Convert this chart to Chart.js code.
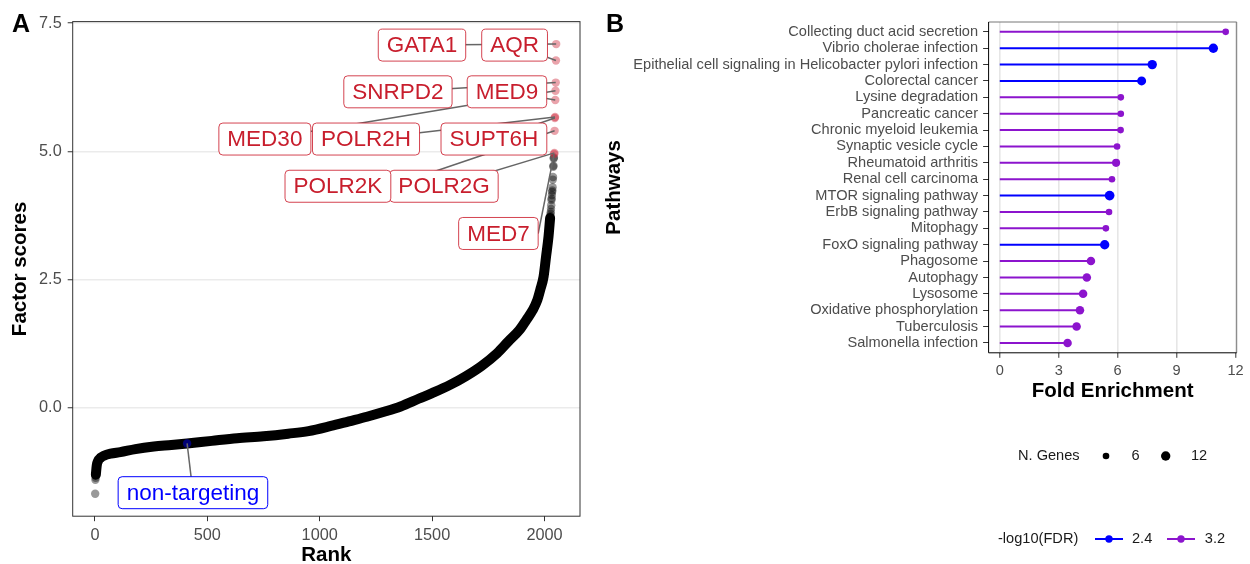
<!DOCTYPE html>
<html>
<head>
<meta charset="utf-8">
<script src="https://cdn.jsdelivr.net/npm/chart.js@4"></script>
<style>
  body { margin: 0; background: #fff; width: 1250px; height: 564px; overflow: hidden; position: relative; }
  #chartA { position: absolute; left: 0; top: 0; }
  #chartB { position: absolute; left: 600px; top: 0; }
</style>
</head>
<body>
<canvas id="chartA" width="600" height="564"></canvas>
<canvas id="chartB" width="650" height="564"></canvas>
<script>
// ---- panel A: ranked factor scores ----
// centre line of the dense band of points (rank, score)
const bandRank  = [4, 8, 14, 25, 40, 70, 113, 180, 262, 340, 410, 520, 633, 750, 860, 950, 1050, 1130, 1210, 1290, 1360, 1440, 1500, 1580, 1650, 1720, 1790, 1840, 1889, 1920, 1948, 1968, 1981, 1996, 2007, 2018, 2025];
const bandScore = [-1.30, -1.12, -1.03, -0.97, -0.93, -0.89, -0.86, -0.80, -0.75, -0.72, -0.69, -0.64, -0.59, -0.55, -0.50, -0.45, -0.35, -0.26, -0.17, -0.07, 0.03, 0.18, 0.29, 0.45, 0.62, 0.82, 1.07, 1.30, 1.52, 1.72, 1.91, 2.10, 2.30, 2.56, 2.95, 3.34, 3.70];
// separate points at both ends
const lowRank  = [1, 2, 3, 4, 5, 6];
const lowScore = [-1.67, -1.40, -1.36, -1.30, -1.24, -1.18];
const tailRank  = [2020, 2021, 2022, 2023, 2024, 2025, 2026, 2027, 2028, 2029, 2030, 2031, 2032, 2033, 2034, 2035, 2036, 2037, 2038, 2039, 2040, 2041, 2042];
const tailScore = [3.40, 3.47, 3.55, 3.62, 3.66, 3.70, 3.74, 3.78, 3.82, 3.88, 3.95, 4.05, 4.08, 4.15, 4.21, 4.24, 4.30, 4.45, 4.50, 4.70, 4.72, 4.86, 4.88];
// highlighted hits
const hitGenes = ['MED7', 'POLR2G', 'POLR2K', 'SUPT6H', 'POLR2H', 'MED9', 'MED30', 'SNRPD2', 'AQR', 'GATA1'];
const hitRank  = [2043, 2044, 2045, 2046, 2047, 2048, 2049, 2050, 2051, 2052];
const hitScore = [4.95, 4.97, 5.40, 5.65, 5.67, 6.00, 6.18, 6.34, 6.77, 7.09];
const ntLabel = 'non-targeting';
const ntRank  = [410];
const ntScore = [-0.69];
const xTicksA = [0, 500, 1000, 1500, 2000];
const yTicksA = [0, 2.5, 5, 7.5];

// label placement (data units), like ggrepel put them
const labelAt = {
  GATA1: [1455, 7.07], AQR: [1867, 7.07],
  SNRPD2: [1348, 6.16], MED9: [1833, 6.16],
  MED30: [756, 5.24], POLR2H: [1206, 5.24], SUPT6H: [1775, 5.24],
  POLR2K: [1081, 4.32], POLR2G: [1553, 4.32],
  MED7: [1795, 3.40],
  'non-targeting': [436, -1.65]
};
const segFromRight = ['POLR2K', 'MED7'];

// ---- panel B: pathway enrichment ----
const pathways = ['Collecting duct acid secretion', 'Vibrio cholerae infection', 'Epithelial cell signaling in Helicobacter pylori infection', 'Colorectal cancer', 'Lysine degradation', 'Pancreatic cancer', 'Chronic myeloid leukemia', 'Synaptic vesicle cycle', 'Rheumatoid arthritis', 'Renal cell carcinoma', 'MTOR signaling pathway', 'ErbB signaling pathway', 'Mitophagy', 'FoxO signaling pathway', 'Phagosome', 'Autophagy', 'Lysosome', 'Oxidative phosphorylation', 'Tuberculosis', 'Salmonella infection'];
const foldEnrichment = [11.50, 10.87, 7.76, 7.22, 6.16, 6.16, 6.15, 5.97, 5.92, 5.71, 5.59, 5.56, 5.40, 5.34, 4.64, 4.43, 4.24, 4.08, 3.91, 3.45];
const nGenes = [6, 12, 12, 11, 6, 6, 6, 6, 9, 6, 13, 6, 6, 12, 10, 10, 10, 10, 10, 10];
const fdr = [3.3, 2.4, 2.4, 2.4, 3.2, 3.2, 3.2, 3.2, 3.2, 3.2, 2.4, 3.2, 3.2, 2.4, 3.2, 3.2, 3.2, 3.2, 3.2, 3.2];
const xTicksB = [0, 3, 6, 9, 12];
const sizeLegend = [6, 12];
const fdrLegend = [2.4, 3.2];

const FONT = "'Liberation Sans', Arial, sans-serif";
Chart.defaults.font.family = FONT;
Chart.defaults.color = '#4D4D4D';

function fdrColor(v) {
  let t = (v - 2.4) / 0.8;
  t = Math.max(0, Math.min(1, t));
  const r = Math.round(140 * t), g = Math.round(20 * t), b = Math.round(255 - 50 * t);
  return `rgb(${r},${g},${b})`;
}
function geneRadius(n) { return 1.35 * Math.sqrt(n); }
const pts = (xs, ys) => xs.map((v, i) => ({x: v, y: ys[i]}));

function roundRect(ctx, x, y, w, h, r) {
  ctx.beginPath();
  ctx.moveTo(x + r, y);
  ctx.lineTo(x + w - r, y); ctx.quadraticCurveTo(x + w, y, x + w, y + r);
  ctx.lineTo(x + w, y + h - r); ctx.quadraticCurveTo(x + w, y + h, x + w - r, y + h);
  ctx.lineTo(x + r, y + h); ctx.quadraticCurveTo(x, y + h, x, y + h - r);
  ctx.lineTo(x, y + r); ctx.quadraticCurveTo(x, y, x + r, y);
  ctx.closePath();
}

const repelLabels = {
  id: 'repelLabels',
  afterDatasetsDraw(chart) {
    const {ctx, scales: {x, y}} = chart;
    const items = hitGenes.map((g, i) => ({text: g, rank: hitRank[i], score: hitScore[i], color: '#C81E2D', border: 'rgba(205,35,50,0.85)'}));
    items.push({text: ntLabel, rank: ntRank[0], score: ntScore[0], color: '#0000FF', border: '#0000FF'});
    ctx.save();
    ctx.font = '22.5px ' + FONT;
    const boxes = items.map(it => {
      const w = ctx.measureText(it.text).width + 17, h = 32;
      const cx = x.getPixelForValue(labelAt[it.text][0]);
      const cy = y.getPixelForValue(labelAt[it.text][1]);
      return {...it, cx, cy, w, h, px: x.getPixelForValue(it.rank), py: y.getPixelForValue(it.score)};
    });
    // segments first, boxes hide them
    ctx.strokeStyle = '#666';
    ctx.lineWidth = 1.5;
    boxes.forEach(b => {
      const sx = segFromRight.includes(b.text) ? b.cx + b.w / 2 : b.cx;
      ctx.beginPath();
      ctx.moveTo(sx, b.cy);
      ctx.lineTo(b.px, b.py);
      ctx.stroke();
    });
    boxes.forEach(b => {
      roundRect(ctx, b.cx - b.w / 2, b.cy - b.h / 2, b.w, b.h, 4);
      ctx.fillStyle = '#fff';
      ctx.fill();
      ctx.strokeStyle = b.border;
      ctx.lineWidth = 1;
      ctx.stroke();
      ctx.fillStyle = b.color;
      ctx.textAlign = 'center';
      ctx.textBaseline = 'middle';
      ctx.fillText(b.text, b.cx, b.cy + 1);
    });
    ctx.restore();
  },
  afterDraw(chart) {
    const {ctx, chartArea: a} = chart;
    ctx.save();
    ctx.strokeStyle = '#333';
    ctx.lineWidth = 1;
    ctx.strokeRect(a.left, a.top, a.right - a.left, a.bottom - a.top);
    ctx.fillStyle = '#000';
    ctx.font = 'bold 25px ' + FONT;
    ctx.textAlign = 'left';
    ctx.textBaseline = 'alphabetic';
    ctx.fillText('A', 12, 31.5);
    ctx.restore();
  }
};

new Chart(document.getElementById('chartA'), {
  type: 'scatter',
  data: {
    datasets: [
      {data: pts(bandRank, bandScore), showLine: true, borderColor: '#000', borderWidth: 10, order: 5,
       borderCapStyle: 'round', borderJoinStyle: 'round', cubicInterpolationMode: 'monotone', pointRadius: 0},
      {data: pts(lowRank, lowScore), pointRadius: 4.2, backgroundColor: 'rgba(0,0,0,0.4)', borderWidth: 0, order: 4},
      {data: pts(tailRank, tailScore), pointRadius: 4.2, backgroundColor: 'rgba(0,0,0,0.4)', borderWidth: 0, order: 3},
      {data: pts(hitRank, hitScore), pointRadius: 4.2, backgroundColor: 'rgba(205,35,55,0.42)', borderWidth: 0, order: 2},
      {data: pts(ntRank, ntScore), pointRadius: 4.2, backgroundColor: 'rgba(0,0,255,0.45)', borderWidth: 0, order: 1}
    ]
  },
  options: {
    responsive: false,
    animation: false,
    layout: {padding: {left: 0, right: 20, top: 21.6, bottom: 0}},
    plugins: {legend: {display: false}, tooltip: {enabled: false}},
    scales: {
      x: {
        type: 'linear', min: -99, max: 2158,
        afterBuildTicks: s => { s.ticks = xTicksA.map(v => ({value: v})); },
        afterFit: s => { s.height = 47.8; },
        ticks: {autoSkip: false, maxRotation: 0, padding: 5, font: {size: 16.3}, color: '#4D4D4D', callback: v => String(v)},
        grid: {drawOnChartArea: false, tickLength: 5, tickColor: '#333', tickWidth: 1},
        border: {display: false},
        title: {display: true, text: 'Rank', color: '#000', font: {size: 20.5, weight: 'bold', lineHeight: 0.8}, padding: 0}
      },
      y: {
        type: 'linear', min: -2.108, max: 7.528,
        afterBuildTicks: s => { s.ticks = yTicksA.map(v => ({value: v})); },
        afterFit: s => { s.width = 72.7; },
        ticks: {autoSkip: false, padding: 6, font: {size: 16.3}, color: '#4D4D4D', callback: v => v.toFixed(1)},
        grid: {color: '#EBEBEB', lineWidth: 1.5, tickLength: 5, tickColor: '#333', tickWidth: 1},
        border: {display: false},
        title: {display: true, text: 'Factor scores', color: '#000', font: {size: 20.5, weight: 'bold'}, padding: {top: 8, bottom: 0}}
      }
    }
  },
  plugins: [repelLabels]
});

// ---- panel B ----
const panelB = {
  id: 'panelB',
  afterDraw(chart) {
    const {ctx, chartArea: a} = chart;
    ctx.save();
    ctx.lineWidth = 1;
    ctx.strokeStyle = '#777';
    ctx.beginPath();
    ctx.moveTo(a.left, a.top); ctx.lineTo(a.right, a.top); ctx.lineTo(a.right, a.bottom);
    ctx.stroke();
    ctx.strokeStyle = '#000';
    ctx.beginPath();
    ctx.moveTo(a.left, a.top); ctx.lineTo(a.left, a.bottom); ctx.lineTo(a.right, a.bottom);
    ctx.stroke();

    ctx.fillStyle = '#000';
    ctx.font = 'bold 25px ' + FONT;
    ctx.textAlign = 'left';
    ctx.textBaseline = 'alphabetic';
    ctx.fillText('B', 6, 31.5);

    // legends
    ctx.font = '14.6px ' + FONT;
    ctx.textBaseline = 'middle';
    ctx.fillStyle = '#1A1A1A';
    ctx.fillText('N. Genes', 418, 456);
    const sizeX = [506, 565.7], sizeLblX = [531.6, 591];
    sizeLegend.forEach((n, i) => {
      ctx.fillStyle = '#000';
      ctx.beginPath();
      ctx.arc(sizeX[i], 456, geneRadius(n), 0, Math.PI * 2);
      ctx.fill();
      ctx.fillStyle = '#1A1A1A';
      ctx.fillText(String(n), sizeLblX[i], 456);
    });
    ctx.fillText('-log10(FDR)', 398, 539);
    const keyX = [509, 581], keyLblX = [532, 604.8];
    fdrLegend.forEach((v, i) => {
      const c = fdrColor(v);
      ctx.strokeStyle = c; ctx.lineWidth = 2;
      ctx.beginPath(); ctx.moveTo(keyX[i] - 14, 539); ctx.lineTo(keyX[i] + 14, 539); ctx.stroke();
      ctx.fillStyle = c;
      ctx.beginPath(); ctx.arc(keyX[i], 539, 3.7, 0, Math.PI * 2); ctx.fill();
      ctx.fillStyle = '#1A1A1A';
      ctx.fillText(v.toFixed(1), keyLblX[i], 539);
    });
    ctx.restore();
  }
};

const stems = pathways.map((p, i) => ({
  data: [{x: 0, y: i + 1}, {x: foldEnrichment[i], y: i + 1}],
  showLine: true, borderColor: fdrColor(fdr[i]), borderWidth: 2, pointRadius: 0, order: 2
}));
const dots = {
  data: pathways.map((p, i) => ({x: foldEnrichment[i], y: i + 1})),
  pointRadius: nGenes.map(geneRadius),
  backgroundColor: fdr.map(fdrColor), borderWidth: 0, order: 1
};

new Chart(document.getElementById('chartB'), {
  type: 'scatter',
  data: {datasets: [...stems, dots]},
  options: {
    responsive: false,
    animation: false,
    layout: {padding: {left: 0, right: 13.3, top: 22, bottom: 161.2}},
    plugins: {legend: {display: false}, tooltip: {enabled: false}},
    scales: {
      x: {
        type: 'linear', min: -0.57, max: 12.06,
        afterBuildTicks: s => { s.ticks = xTicksB.map(v => ({value: v})); },
        afterFit: s => { s.height = 50; },
        ticks: {autoSkip: false, maxRotation: 0, padding: 4, font: {size: 14.6}, color: '#4D4D4D'},
        grid: {color: '#E6E6E6', lineWidth: 1.6, tickLength: 5, tickColor: '#333', tickWidth: 1},
        border: {display: false},
        title: {display: true, text: 'Fold Enrichment', color: '#000', font: {size: 20.5, weight: 'bold', lineHeight: 1.0}, padding: {top: 0, bottom: 1.5}}
      },
      y: {
        type: 'linear', reverse: true, min: 0.4, max: 20.6,
        afterBuildTicks: s => { s.ticks = pathways.map((p, i) => ({value: i + 1})); },
        afterFit: s => { s.width = 388.6; },
        ticks: {autoSkip: false, padding: 5, font: {size: 14.6}, color: '#4D4D4D', callback: v => pathways[v - 1]},
        grid: {drawOnChartArea: false, tickLength: 5.5, tickColor: '#333', tickWidth: 1},
        border: {display: false},
        title: {display: true, text: 'Pathways', color: '#000', font: {size: 20.5, weight: 'bold', lineHeight: 1.0}, padding: {top: 3.8, bottom: 0}}
      }
    }
  },
  plugins: [panelB]
});
</script>
</body>
</html>
